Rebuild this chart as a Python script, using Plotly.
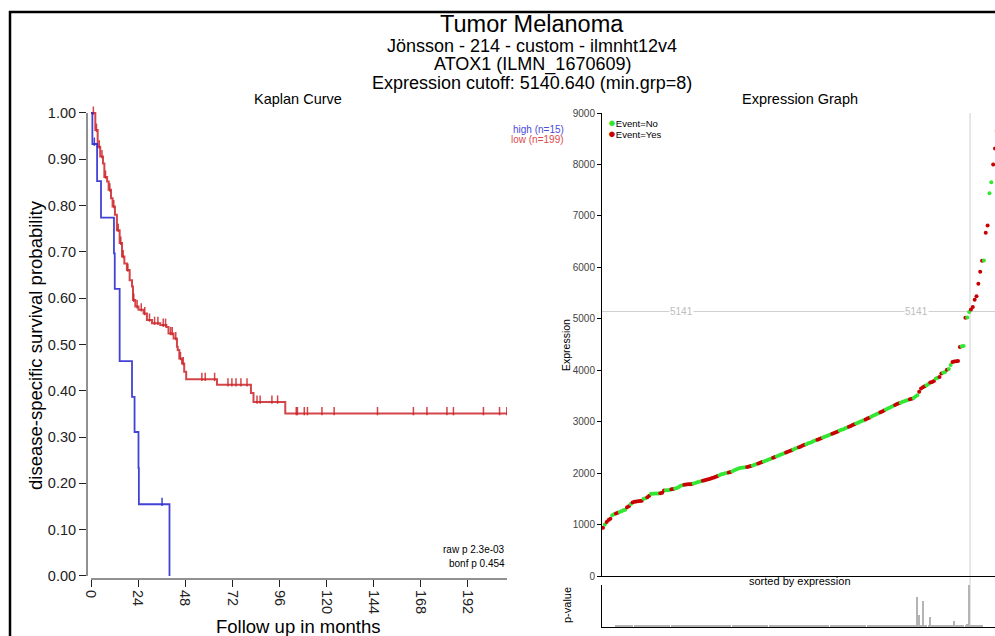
import plotly.graph_objects as go

W, H = 995, 636
FONT = "Liberation Sans, Arial, Helvetica, sans-serif"

# ---------------- Kaplan-Meier data ----------------
# survival level reached at each event time (step function)
high_times = [0, 0.7, 3.1, 5.1, 11.7, 12.1, 14.6, 20.9, 22.2, 24.2, 24.4, 40.0]
high_surv = [1.0, 0.933, 0.853, 0.774, 0.697, 0.620, 0.464, 0.387, 0.311, 0.233, 0.155, 0.0]
high_censor = [1.7, 36.2]

low_times = [0, 2.2, 3.4, 4.7, 6.1, 6.8, 8.2, 9.0, 10.2, 11.0, 12.2, 13.2, 14.6, 15.8,
             17.0, 18.3, 19.7, 20.9, 21.4, 22.6, 24.2, 26.8, 28.5, 31.1, 35.3, 38.4,
             39.5, 42.1, 43.8, 44.2, 45.0, 46.4, 47.5, 48.5, 64.2, 81.5, 82.8, 99.0, 212.0]
low_surv = [1.0, 0.963, 0.927, 0.906, 0.891, 0.862, 0.852, 0.834, 0.816, 0.798, 0.780,
            0.747, 0.719, 0.690, 0.675, 0.661, 0.639, 0.625, 0.596, 0.582, 0.575, 0.567,
            0.553, 0.546, 0.542, 0.538, 0.524, 0.513, 0.495, 0.488, 0.470, 0.459, 0.441,
            0.425, 0.413, 0.395, 0.376, 0.351, 0.351]
low_censor = [1.2, 2.8, 4.2, 5.6, 7.4, 9.6, 11.6, 13.9, 15.2, 16.4, 18.8, 21.8, 23.5,
              25.6, 27.4, 29.8, 32.4, 34.1, 36.8, 38.0, 40.6, 41.4, 43.2, 45.6, 47.0,
              56.5, 58.2, 63.0, 69.8, 71.8, 73.9, 76.4, 79.5, 84.6, 86.2, 92.2, 95.1,
              104.6, 105.2, 108.7, 110.3, 117.7, 123.9, 146.0, 164.3, 171.2, 181.4,
              184.7, 200.0, 208.2, 211.9]

high_n, low_n = 15, 199
raw_p, bonf_p = "2.3e-03", "0.454"
month_ticks = [0, 24, 48, 72, 96, 120, 144, 168, 192]
surv_ticks = [0.0, 0.1, 0.2, 0.3, 0.4, 0.5, 0.6, 0.7, 0.8, 0.9, 1.0]

# ---------------- Expression data (sorted) ----------------
expression = [
    938, 1000, 1050, 1090, 1115, 1180, 1200, 1215, 1230, 1245,
    1260, 1280, 1290, 1335, 1355, 1400, 1430, 1445, 1450, 1455,
    1458, 1462, 1500, 1510, 1530, 1560, 1600, 1600, 1602, 1604,
    1606, 1608, 1620, 1660, 1665, 1668, 1672, 1685, 1692, 1700,
    1710, 1730, 1755, 1765, 1775, 1780, 1782, 1784, 1786, 1800,
    1810, 1820, 1830, 1840, 1850, 1860, 1870, 1880, 1892, 1903,
    1915, 1930, 1945, 1960, 1978, 1985, 1995, 2003, 2012, 2022,
    2035, 2055, 2070, 2085, 2100, 2105, 2110, 2112, 2120, 2130,
    2140, 2150, 2162, 2176, 2188, 2200, 2215, 2228, 2241, 2256,
    2270, 2284, 2297, 2312, 2328, 2340, 2355, 2371, 2385, 2399,
    2414, 2431, 2446, 2458, 2476, 2491, 2505, 2519, 2537, 2550,
    2563, 2579, 2592, 2605, 2622, 2637, 2649, 2664, 2680, 2694,
    2707, 2723, 2738, 2751, 2766, 2782, 2795, 2810, 2827, 2842,
    2855, 2870, 2887, 2901, 2915, 2933, 2948, 2962, 2980, 2996,
    3011, 3029, 3043, 3062, 3078, 3094, 3113, 3129, 3148, 3164,
    3183, 3199, 3219, 3235, 3255, 3271, 3291, 3307, 3324, 3341,
    3356, 3369, 3385, 3397, 3411, 3422, 3435, 3446, 3460, 3490,
    3515, 3580, 3645, 3670, 3690, 3710, 3730, 3760, 3770, 3790,
    3840, 3855, 3870, 3935, 3950, 3965, 4010, 4025, 4100, 4160,
    4170, 4175, 4178, 4450, 4465, 4470, 5020, 5025, 5130,
    5180, 5230, 5370, 5440, 5680, 5915, 6130, 6135, 6670, 6815,
    7440, 7655, 8000, 8310, 8650,
]
# 1 = event (death), 0 = no event
event = [
    1, 0, 1, 1, 1, 0, 0, 1, 1, 0,
    0, 0, 0, 1, 1, 0, 1, 1, 1, 1,
    1, 1, 0, 0, 1, 1, 0, 0, 0, 0,
    0, 1, 1, 1, 0, 0, 0, 1, 1, 0,
    0, 0, 0, 0, 1, 1, 1, 1, 1, 0,
    0, 0, 0, 0, 1, 1, 1, 1, 1, 1,
    1, 1, 1, 0, 0, 0, 0, 0, 1, 1,
    0, 0, 0, 0, 0, 0, 0, 0, 1, 1,
    1, 0, 0, 0, 1, 1, 1, 0, 0, 0,
    0, 0, 1, 1, 0, 0, 0, 0, 0, 1,
    1, 1, 1, 0, 0, 0, 1, 1, 1, 1,
    0, 0, 0, 0, 0, 0, 1, 1, 1, 0,
    0, 0, 0, 0, 1, 1, 1, 1, 0, 0,
    0, 0, 0, 1, 1, 1, 1, 0, 0, 0,
    0, 0, 1, 1, 1, 0, 0, 0, 0, 0,
    1, 1, 1, 0, 0, 0, 0, 0, 1, 1,
    1, 0, 0, 0, 0, 0, 1, 1, 0, 0,
    0, 1, 1, 1, 1, 0, 0, 1, 1, 1,
    0, 0, 1, 1, 0, 0, 1, 0, 0, 1,
    1, 1, 1, 1, 0, 0, 1, 0, 0,
    1, 1, 1, 1, 1, 1, 1, 0, 1, 1,
    0, 0, 1, 1, 1,
]
cutoff = 5140.640
min_grp = 8
expr_ticks = [0, 1000, 2000, 3000, 4000, 5000, 6000, 7000, 8000, 9000]

# p-value profile over the tested split positions (relative bar heights)
pval_spikes = {171: 0.71, 172: 0.28, 174: 0.62, 178: 0.24, 191: 0.14, 198: 0.07, 199: 1.0}
pval_floor = 0.025

RED = "rgba(205,35,40,0.85)"
BLUE = "rgba(45,45,210,0.9)"
GREEN_PT = "#33e633"
RED_PT = "#c80000"


def px(x):
    return x / W


def py(y):
    return 1 - y / H


def surv_at(times, surv, t):
    s = surv[0]
    for ti, si in zip(times, surv):
        if ti <= t:
            s = si
    return s


def censor_marks(times, surv, ctimes):
    xs, ys = [], []
    for c in ctimes:
        s = surv_at(times, surv, c)
        xs += [c, c, None]
        ys += [s - 0.004, s + 0.014, None]
    return xs, ys


fig = go.Figure()

# --- Kaplan-Meier curves ---
for times, surv, cens, col, w in [
    (low_times, low_surv, low_censor, RED, 2.0),
    (high_times, high_surv, high_censor, BLUE, 1.8),
]:
    fig.add_trace(go.Scatter(x=times, y=surv, mode="lines", line=dict(color=col, width=w, shape="hv"),
                             xaxis="x", yaxis="y", showlegend=False, hoverinfo="skip"))
    cx, cy = censor_marks(times, surv, cens)
    fig.add_trace(go.Scatter(x=cx, y=cy, mode="lines", line=dict(color=col, width=1.5),
                             xaxis="x", yaxis="y", showlegend=False, hoverinfo="skip"))

# --- Expression points ---
idx = list(range(1, len(expression) + 1))
colors = [RED_PT if e else GREEN_PT for e in event]
fig.add_trace(go.Scatter(x=idx, y=expression, mode="markers",
                         marker=dict(color=colors, size=4, line=dict(width=0)),
                         xaxis="x2", yaxis="y2", showlegend=False, hoverinfo="skip"))

# --- p-value bars ---
p_idx = list(range(min_grp, len(expression) - min_grp + 1))
p_val = [pval_spikes.get(i, pval_floor) for i in p_idx]
fig.add_trace(go.Bar(x=p_idx, y=p_val, width=0.45, marker=dict(color="#b4b4b4", line=dict(width=0)),
                     xaxis="x3", yaxis="y3", showlegend=False, hoverinfo="skip"))

cut_pos = low_n + 0.5
km_xmax = 212

axis_common = dict(showgrid=False, zeroline=False, automargin=False)
fig.update_layout(
    width=W, height=H, autosize=False,
    margin=dict(l=0, r=0, t=0, b=0, pad=0, autoexpand=False),
    showlegend=False,
    paper_bgcolor="white", plot_bgcolor="white",
    font=dict(family=FONT, color="#000"),
    bargap=0,
    xaxis=dict(domain=[px(87), px(507)], range=[-2.04, km_xmax], anchor="y",
               tickvals=month_ticks, ticktext=[str(t) for t in month_ticks], tickangle=90,
               ticks="outside", ticklen=7, tickcolor="#222", showline=False,
               tickfont=dict(size=14.5, color="#222"), **axis_common),
    yaxis=dict(domain=[py(579), py(106)], range=[-0.0065, 1.0151], anchor="x",
               tickvals=surv_ticks, ticktext=[f"{v:.2f}" for v in surv_ticks],
               ticks="outside", ticklen=7, tickcolor="#222", showline=False,
               tickfont=dict(size=14.5, color="#222"), **axis_common),
    xaxis2=dict(domain=[px(602), 1.0], range=[0.46, 213.0], anchor="y2",
                showticklabels=False, ticks="", showline=True, linecolor="#000", linewidth=1,
                **axis_common),
    yaxis2=dict(domain=[py(576), py(113)], range=[0, 9000], anchor="x2",
                tickvals=expr_ticks, ticks="outside", ticklen=4, tickcolor="#000",
                showline=True, linecolor="#000", linewidth=1,
                tickfont=dict(size=10, color="#444"), **axis_common),
    xaxis3=dict(domain=[px(602), 1.0], range=[0.46, 213.0], anchor="y3", matches="x2",
                showticklabels=False, ticks="", showline=True, linecolor="#000", linewidth=1,
                **axis_common),
    yaxis3=dict(domain=[py(627), py(585)], range=[0, 1], anchor="x3",
                showticklabels=False, ticks="", showline=True, linecolor="#000", linewidth=1,
                **axis_common),
)

shapes = [
    # KM axis lines (offset from the data area)
    dict(type="line", xref="x", yref="paper", x0=0, x1=km_xmax, y0=py(579), y1=py(579),
         line=dict(color="#222", width=1)),
    dict(type="line", xref="paper", yref="y", x0=px(87), x1=px(87), y0=0, y1=1,
         line=dict(color="#222", width=1)),
    # cutoff guides
    dict(type="line", xref="paper", yref="y2", x0=px(602), x1=1, y0=cutoff, y1=cutoff,
         line=dict(color="#cfcfcf", width=1), layer="below"),
    dict(type="line", xref="x2", yref="paper", x0=cut_pos, x1=cut_pos, y0=py(627), y1=py(113),
         line=dict(color="#cfcfcf", width=1), layer="below"),
    # outer frame (open towards the right and bottom edges)
    dict(type="rect", xref="paper", yref="paper", x0=px(10), x1=1.02, y0=-0.02, y1=py(12),
         line=dict(color="#000", width=2.5)),
]
fig.update_layout(shapes=shapes)


def ann(text, x, y, size, xanchor="center", yanchor="middle", color="#000", angle=0, **kw):
    return dict(text=text, x=x, y=y, xref=kw.pop("xref", "paper"), yref=kw.pop("yref", "paper"),
                xanchor=xanchor, yanchor=yanchor, showarrow=False, textangle=angle,
                font=dict(size=size, color=color, family=FONT), **kw)


annotations = [
    ann("Tumor Melanoma", px(532), py(24), 23.5),
    ann("Jönsson - 214 - custom - ilmnht12v4", px(532), py(46), 18),
    ann("ATOX1 (ILMN_1670609)", px(532), py(64.5), 18),
    ann(f"Expression cutoff: {cutoff:.3f} (min.grp={min_grp})", px(532), py(83), 18),
    ann("Kaplan Curve", px(298), py(99), 14.5),
    ann("Expression Graph", px(800), py(99), 14.5),
    ann("disease-specific survival probability", px(35), py(345), 18.5, angle=-90),
    ann("Follow up in months", px(298), py(626), 18.5),
    ann(f"high (n={high_n})", px(566), py(129), 10, xanchor="right", color="#4b4bdc"),
    ann(f"low (n={low_n})", px(566), py(140), 10, xanchor="right", color="#dc4b4b"),
    ann(f"raw p {raw_p}", px(507), py(549), 10, xanchor="right"),
    ann(f"bonf p {bonf_p}", px(507), py(563), 10, xanchor="right"),
    ann("Expression", px(566), py(345), 10.5, angle=-90),
    ann("sorted by expression", px(800), py(581), 11),
    ann("p-value", px(567), py(605), 11, angle=-90),
    ann("<span style='color:%s;font-size:13px'>●</span>Event=No" % GREEN_PT, px(606), py(122), 9.5,
        xanchor="left"),
    ann("<span style='color:%s;font-size:13px'>●</span>Event=Yes" % RED_PT, px(606), py(133), 9.5,
        xanchor="left"),
]
for xi in (43.2, 170.8):
    annotations.append(ann(f"{cutoff:.0f}", xi, cutoff, 10, color="#bdbdbd",
                           xref="x2", yref="y2", bgcolor="white", borderpad=0))
fig.update_layout(annotations=annotations)

fig.write_html("out.html")
